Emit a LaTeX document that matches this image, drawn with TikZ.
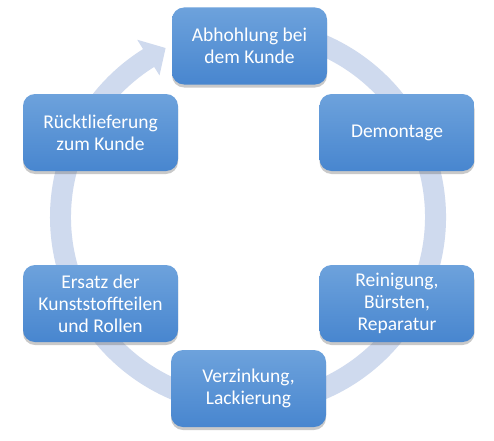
\documentclass[tikz,border=0pt]{standalone}
\usepackage{fontspec}
\setmainfont{Carlito}
\usetikzlibrary{shadows}
\definecolor{ringc}{HTML}{CFDAEE}
\definecolor{boxtop}{HTML}{6DA2DC}
\definecolor{boxbot}{HTML}{4886CF}
\tikzset{
  stepbox/.style={rectangle, rounded corners=12pt, minimum width=155pt, minimum height=77pt,
    top color=boxtop, bottom color=boxbot, draw=none, text=white, align=center,
    font=\fontsize{19.5}{22}\selectfont, inner sep=2pt,
    drop shadow={shadow xshift=0pt, shadow yshift=-3pt, opacity=0.35, fill=black!60}}
}
\begin{document}
\begin{tikzpicture}[x=1pt,y=1pt]
\useasboundingbox[fill=white] (0,0) rectangle (494,440);
\begin{scope}[shift={(248,223)}]
\fill[ringc] (460:198) arc[start angle=460, end angle=122, radius=198] -- (122:209) -- (116:188) -- (122:167) -- (122:177) arc[start angle=122, end angle=460, radius=177] -- cycle;
\end{scope}
\node[stepbox] (abh) at (249.5,394) {Abhohlung bei\\dem Kunde};
\node[stepbox] (dem) at (397,307.5) {Demontage};
\node[stepbox] (rei) at (397,136.5) {Reinigung,\\Bürsten,\\Reparatur};
\node[stepbox] (ver) at (248.5,51.5) {Verzinkung,\\Lackierung};
\node[stepbox] (ers) at (100.5,136.5) {Ersatz der\\Kunststoffteilen\\und Rollen};
\node[stepbox] (rue) at (100.5,307.5) {Rücktlieferung\\zum Kunde};
\end{tikzpicture}
\end{document}
